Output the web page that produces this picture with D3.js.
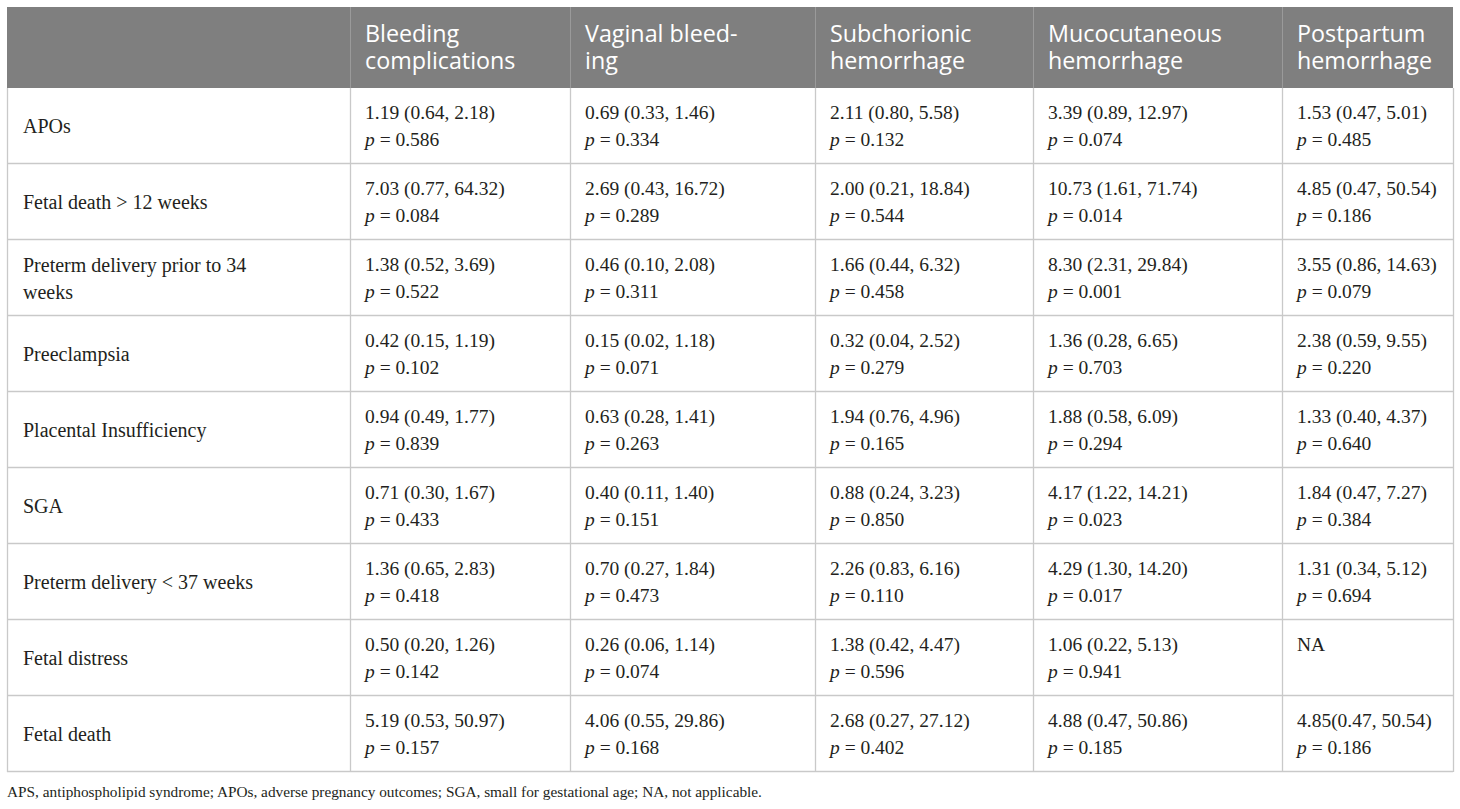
<!DOCTYPE html>
<html>
<head>
<meta charset="utf-8">
<script src="https://cdn.jsdelivr.net/npm/d3@7"></script>
<style>
  body { margin: 0; background: #fff; }
  svg { display: block; }
</style>
</head>
<body>
<script>
// table content
var headers = [
  [],
  ['Bleeding', 'complications'],
  ['Vaginal bleed-', 'ing'],
  ['Subchorionic', 'hemorrhage'],
  ['Mucocutaneous', 'hemorrhage'],
  ['Postpartum', 'hemorrhage']
];

var outcomes = [
  ['APOs'],
  ['Fetal death > 12 weeks'],
  ['Preterm delivery prior to 34', 'weeks'],
  ['Preeclampsia'],
  ['Placental Insufficiency'],
  ['SGA'],
  ['Preterm delivery < 37 weeks'],
  ['Fetal distress'],
  ['Fetal death']
];

var estimates = [
  ['1.19 (0.64, 2.18)', '0.69 (0.33, 1.46)', '2.11 (0.80, 5.58)', '3.39 (0.89, 12.97)', '1.53 (0.47, 5.01)'],
  ['7.03 (0.77, 64.32)', '2.69 (0.43, 16.72)', '2.00 (0.21, 18.84)', '10.73 (1.61, 71.74)', '4.85 (0.47, 50.54)'],
  ['1.38 (0.52, 3.69)', '0.46 (0.10, 2.08)', '1.66 (0.44, 6.32)', '8.30 (2.31, 29.84)', '3.55 (0.86, 14.63)'],
  ['0.42 (0.15, 1.19)', '0.15 (0.02, 1.18)', '0.32 (0.04, 2.52)', '1.36 (0.28, 6.65)', '2.38 (0.59, 9.55)'],
  ['0.94 (0.49, 1.77)', '0.63 (0.28, 1.41)', '1.94 (0.76, 4.96)', '1.88 (0.58, 6.09)', '1.33 (0.40, 4.37)'],
  ['0.71 (0.30, 1.67)', '0.40 (0.11, 1.40)', '0.88 (0.24, 3.23)', '4.17 (1.22, 14.21)', '1.84 (0.47, 7.27)'],
  ['1.36 (0.65, 2.83)', '0.70 (0.27, 1.84)', '2.26 (0.83, 6.16)', '4.29 (1.30, 14.20)', '1.31 (0.34, 5.12)'],
  ['0.50 (0.20, 1.26)', '0.26 (0.06, 1.14)', '1.38 (0.42, 4.47)', '1.06 (0.22, 5.13)', 'NA'],
  ['5.19 (0.53, 50.97)', '4.06 (0.55, 29.86)', '2.68 (0.27, 27.12)', '4.88 (0.47, 50.86)', '4.85(0.47, 50.54)']
];

var pValues = [
  ['0.586', '0.334', '0.132', '0.074', '0.485'],
  ['0.084', '0.289', '0.544', '0.014', '0.186'],
  ['0.522', '0.311', '0.458', '0.001', '0.079'],
  ['0.102', '0.071', '0.279', '0.703', '0.220'],
  ['0.839', '0.263', '0.165', '0.294', '0.640'],
  ['0.433', '0.151', '0.850', '0.023', '0.384'],
  ['0.418', '0.473', '0.110', '0.017', '0.694'],
  ['0.142', '0.074', '0.596', '0.941', null],
  ['0.157', '0.168', '0.402', '0.185', '0.186']
];

var footnote = 'APS, antiphospholipid syndrome; APOs, adverse pregnancy outcomes; SGA, small for gestational age; NA, not applicable.';

// layout  (note: "top" is taken by window.top, so tableTop)
var W = 1460, H = 809;
var tableLeft = 7, tableTop = 7, headerH = 81, rowH = 76;
var colWidths = [343, 220, 245, 218, 249, 171];
var padX = 15, lineH = 27;

var colEdges = [tableLeft].concat(Array.from(d3.cumsum(colWidths), function (d) { return tableLeft + d; }));
var tableW = colEdges[colEdges.length - 1] - tableLeft;

var xCol = d3.scaleOrdinal()
    .domain(d3.range(colWidths.length))
    .range(colEdges.slice(0, -1));

var yRow = d3.scaleBand()
    .domain(d3.range(outcomes.length))
    .range([tableTop + headerH, tableTop + headerH + rowH * outcomes.length]);

var tableBottom = yRow.range()[1];

var svg = d3.select('body').append('svg')
    .attr('width', W)
    .attr('height', H);

// header band
svg.append('rect')
    .attr('x', tableLeft)
    .attr('y', tableTop)
    .attr('width', tableW)
    .attr('height', headerH)
    .attr('fill', '#7f7f7f');

// header dividers
svg.selectAll('line.hdiv')
  .data(d3.range(1, colWidths.length))
  .enter()
  .append('line')
    .attr('class', 'hdiv')
    .attr('x1', function (d) { return xCol(d) + 0.5; })
    .attr('x2', function (d) { return xCol(d) + 0.5; })
    .attr('y1', tableTop)
    .attr('y2', tableTop + headerH)
    .attr('stroke', '#9a9a9a')
    .attr('stroke-width', 1);

// header text
var hdr = svg.selectAll('text.hdr')
  .data(headers)
  .enter()
  .append('text')
    .attr('class', 'hdr')
    .attr('font-family', '"Open Sans", sans-serif')
    .attr('font-size', '23.3px')
    .attr('fill', '#ffffff');

hdr.selectAll('tspan')
  .data(function (d, i) {
    return d.map(function (t, j) { return {t: t, col: i, line: j, n: d.length}; });
  })
  .enter()
  .append('tspan')
    .attr('x', function (d) { return xCol(d.col) + padX; })
    .attr('y', function (d) {
      var mid = tableTop + headerH / 2;
      return mid + (d.line - (d.n - 1) / 2) * lineH;
    })
    .attr('dy', '0.35em')
    .text(function (d) { return d.t; });

// body grid: horizontal lines
svg.selectAll('line.hrow')
  .data(d3.range(outcomes.length))
  .enter()
  .append('line')
    .attr('class', 'hrow')
    .attr('x1', tableLeft)
    .attr('x2', tableLeft + tableW)
    .attr('y1', function (d) { return yRow(d) + rowH - 0.5; })
    .attr('y2', function (d) { return yRow(d) + rowH - 0.5; })
    .attr('stroke', '#c9c9c9')
    .attr('stroke-width', 1.3);

// body grid: vertical lines (incl. outer)
svg.selectAll('line.vcol')
  .data(colEdges)
  .enter()
  .append('line')
    .attr('class', 'vcol')
    .attr('x1', function (d) { return d + 0.5; })
    .attr('x2', function (d) { return d + 0.5; })
    .attr('y1', tableTop + headerH)
    .attr('y2', tableBottom)
    .attr('stroke', '#c9c9c9')
    .attr('stroke-width', 1.3);

var bodyFont = '"Liberation Serif", "Times New Roman", serif';
var textColor = '#231f20';

// row labels
var lab = svg.selectAll('text.lab')
  .data(outcomes)
  .enter()
  .append('text')
    .attr('class', 'lab')
    .attr('font-family', bodyFont)
    .attr('font-size', '20px')
    .attr('fill', textColor);

lab.selectAll('tspan')
  .data(function (d, i) {
    return d.map(function (t, j) { return {t: t, row: i, line: j, n: d.length}; });
  })
  .enter()
  .append('tspan')
    .attr('x', xCol(0) + padX + 1)
    .attr('y', function (d) {
      var mid = yRow(d.row) + rowH / 2;
      return mid + (d.line - (d.n - 1) / 2) * lineH;
    })
    .attr('dy', '0.35em')
    .text(function (d) { return d.t; });

// cells
var cells = [];
estimates.forEach(function (row, r) {
  row.forEach(function (est, c) {
    cells.push({row: r, col: c + 1, est: est, p: pValues[r][c]});
  });
});

var cell = svg.selectAll('g.cell')
  .data(cells)
  .enter()
  .append('g')
    .attr('class', 'cell')
    .attr('font-family', bodyFont)
    .attr('font-size', '19.5px')
    .attr('fill', textColor);

cell.append('text')
    .attr('x', function (d) { return xCol(d.col) + padX; })
    .attr('y', function (d) { return yRow(d.row) + rowH / 2 - lineH / 2; })
    .attr('dy', '0.35em')
    .text(function (d) { return d.est; });

var pt = cell.filter(function (d) { return d.p !== null; })
  .append('text')
    .attr('x', function (d) { return xCol(d.col) + padX; })
    .attr('y', function (d) { return yRow(d.row) + rowH / 2 + lineH / 2; })
    .attr('dy', '0.35em');

pt.append('tspan')
    .attr('font-style', 'italic')
    .text('p');
pt.append('tspan')
    .text(function (d) { return ' = ' + d.p; });

// footnote
svg.append('text')
    .attr('x', tableLeft)
    .attr('y', tableBottom + 20)
    .attr('dy', '0.35em')
    .attr('font-family', bodyFont)
    .attr('font-size', '15.3px')
    .attr('fill', textColor)
    .text(footnote);
</script>
</body>
</html>
